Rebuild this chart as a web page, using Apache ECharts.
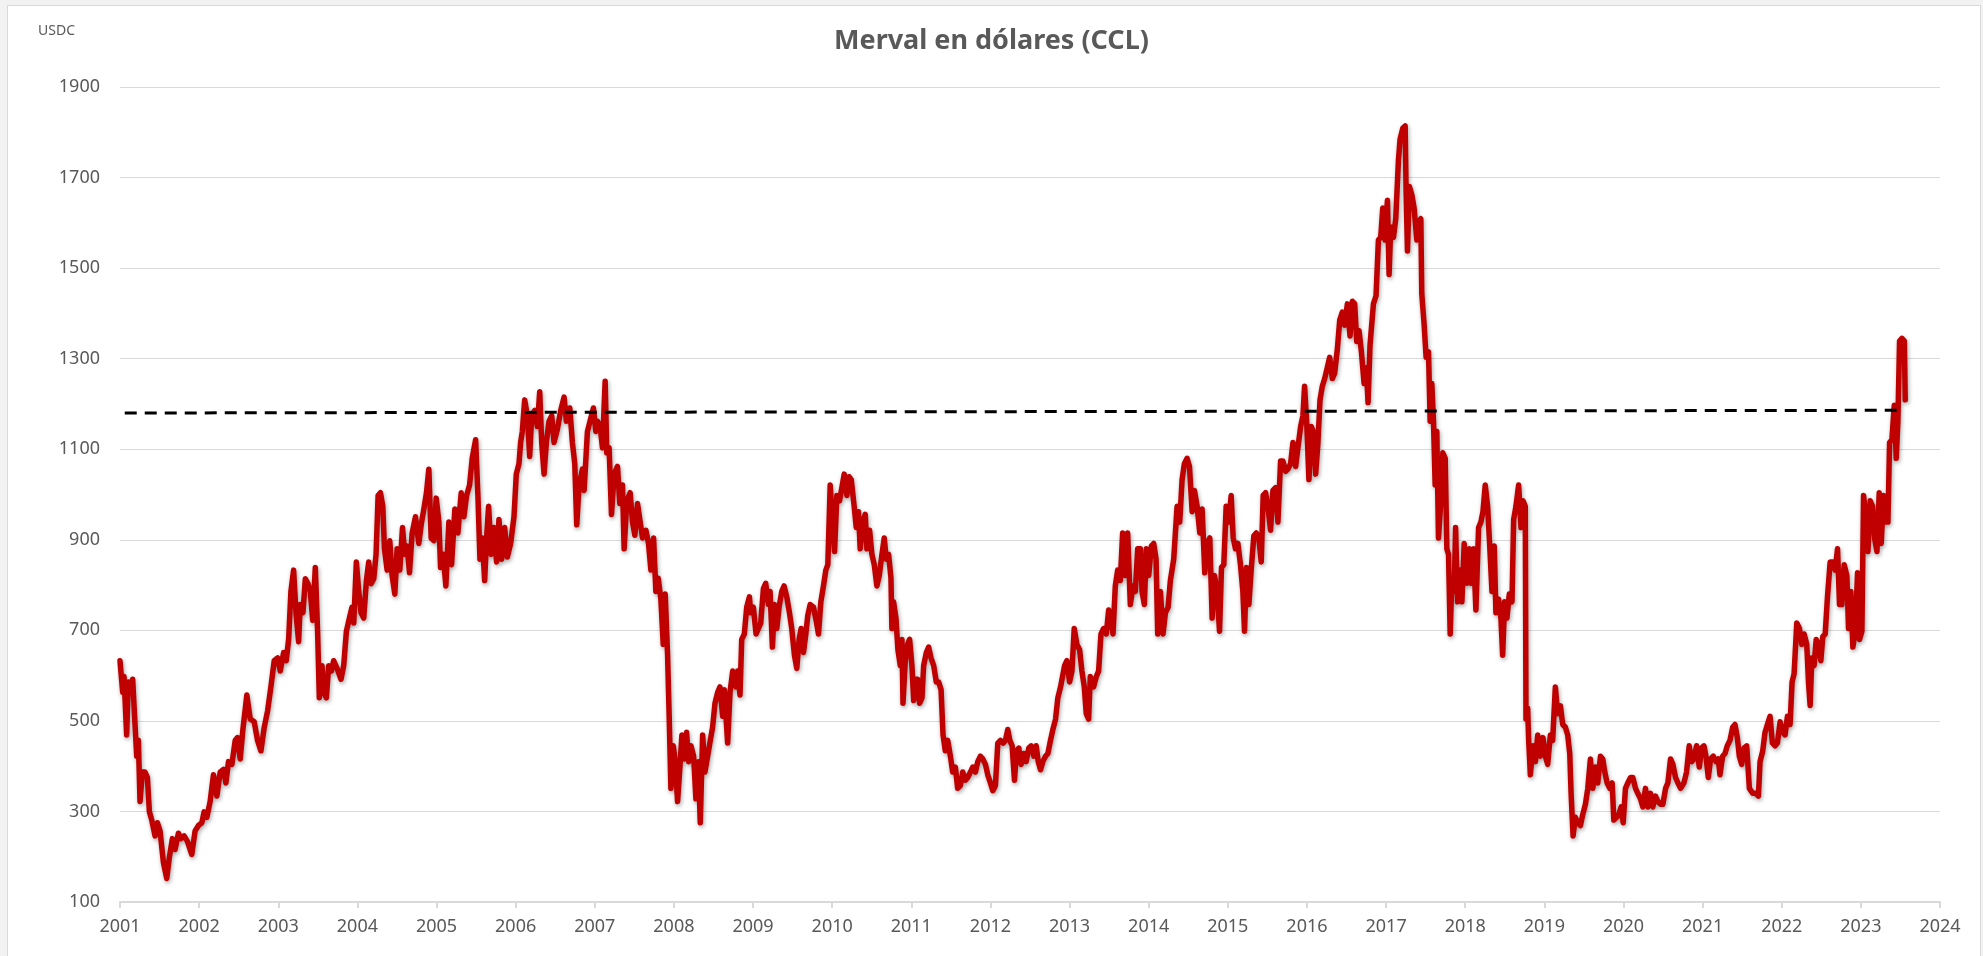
<!DOCTYPE html>
<html>
<head>
<meta charset="utf-8">
<title>Merval en dólares (CCL)</title>
<script src="https://cdn.jsdelivr.net/npm/echarts/dist/echarts.min.js"></script>
<style>
html,body{margin:0;padding:0;background:#f2f2f2;overflow:hidden;}
#marco{position:absolute;left:7px;top:5px;width:1972px;height:960px;background:#fff;border:1px solid #d9d9d9;}
#grafico{position:absolute;left:0;top:0;width:1983px;height:956px;}
</style>
</head>
<body>
<div id="marco"></div>
<div id="grafico"></div>
<script>
//datos: año (decimal) y Merval en USD CCL
var anios = [
 2001.000,2001.034,2001.051,2001.084,2001.105,2001.135,2001.160,2001.190,2001.211,2001.232,2001.253,2001.283,2001.316,2001.346,2001.371,2001.401,2001.443,2001.473,2001.506,2001.549,2001.591,2001.624,2001.662,2001.696,2001.738,2001.768,2001.810,2001.852,2001.907,2001.949,2001.992,
 2002.034,2002.063,2002.097,2002.139,2002.181,2002.224,2002.266,2002.308,2002.338,2002.371,2002.414,2002.456,2002.485,2002.519,2002.553,2002.603,2002.646,2002.696,2002.738,2002.781,2002.823,2002.865,2002.907,2002.949,2002.992,
 2003.025,2003.068,2003.101,2003.131,2003.160,2003.194,2003.224,2003.257,2003.278,2003.312,2003.342,2003.376,2003.405,2003.435,2003.468,2003.498,2003.519,2003.553,2003.574,2003.608,2003.637,2003.671,2003.700,2003.743,2003.793,2003.827,2003.861,2003.899,2003.932,2003.954,2003.987,
 2004.017,2004.046,2004.080,2004.114,2004.143,2004.173,2004.207,2004.236,2004.262,2004.291,2004.321,2004.342,2004.376,2004.409,2004.439,2004.473,2004.502,2004.536,2004.570,2004.599,2004.629,2004.658,2004.692,2004.734,2004.776,2004.806,2004.840,2004.873,2004.903,2004.932,2004.966,2004.996,
 2005.030,2005.051,2005.084,2005.118,2005.156,2005.190,2005.232,2005.270,2005.312,2005.346,2005.380,2005.418,2005.451,2005.494,2005.523,2005.549,2005.578,2005.608,2005.633,2005.658,2005.692,2005.726,2005.759,2005.789,2005.823,2005.861,2005.895,2005.937,2005.979,
 2006.008,2006.042,2006.063,2006.084,2006.114,2006.148,2006.177,2006.203,2006.241,2006.274,2006.304,2006.329,2006.359,2006.388,2006.422,2006.456,2006.485,2006.527,2006.570,2006.612,2006.641,2006.684,2006.717,2006.747,2006.772,2006.802,2006.844,2006.865,2006.907,2006.949,2006.983,
 2007.013,2007.034,2007.068,2007.097,2007.131,2007.152,2007.181,2007.211,2007.245,2007.287,2007.316,2007.350,2007.371,2007.405,2007.447,2007.477,2007.506,2007.540,2007.574,2007.603,2007.646,2007.679,2007.709,2007.743,2007.772,2007.802,2007.835,2007.865,2007.890,2007.920,2007.941,2007.962,2007.992,
 2008.017,2008.046,2008.076,2008.101,2008.131,2008.160,2008.186,2008.215,2008.249,2008.278,2008.308,2008.333,2008.363,2008.392,2008.426,2008.460,2008.489,2008.519,2008.553,2008.582,2008.616,2008.637,2008.679,2008.709,2008.743,2008.785,2008.806,2008.835,2008.857,2008.890,2008.920,2008.954,2008.970,
 2009.004,2009.038,2009.068,2009.097,2009.131,2009.160,2009.194,2009.215,2009.245,2009.270,2009.300,2009.329,2009.363,2009.392,2009.426,2009.460,2009.489,2009.523,2009.553,2009.582,2009.608,2009.637,2009.667,2009.692,2009.722,2009.764,2009.797,2009.827,2009.857,2009.890,2009.920,2009.945,2009.975,
 2010.004,2010.030,2010.059,2010.093,2010.122,2010.152,2010.186,2010.215,2010.241,2010.278,2010.304,2010.333,2010.354,2010.388,2010.418,2010.439,2010.473,2010.502,2010.532,2010.565,2010.595,2010.629,2010.658,2010.684,2010.713,2010.743,2010.755,2010.776,2010.806,2010.831,2010.861,2010.882,2010.895,2010.924,2010.954,2010.979,
 2011.008,2011.030,2011.051,2011.080,2011.105,2011.135,2011.156,2011.190,2011.219,2011.249,2011.283,2011.316,2011.346,2011.376,2011.401,2011.430,2011.460,2011.494,2011.523,2011.557,2011.586,2011.620,2011.650,2011.684,2011.713,2011.747,2011.776,2011.810,2011.840,2011.873,2011.903,2011.937,2011.966,
 2012.000,2012.030,2012.063,2012.093,2012.127,2012.160,2012.190,2012.219,2012.245,2012.274,2012.304,2012.329,2012.359,2012.388,2012.422,2012.451,2012.485,2012.515,2012.549,2012.578,2012.604,2012.633,2012.662,2012.696,2012.726,2012.759,2012.789,2012.823,2012.852,2012.886,2012.937,2012.966,
 2013.000,2013.030,2013.059,2013.093,2013.127,2013.156,2013.186,2013.211,2013.241,2013.262,2013.304,2013.338,2013.367,2013.397,2013.430,2013.464,2013.494,2013.523,2013.549,2013.578,2013.608,2013.641,2013.671,2013.705,2013.734,2013.768,2013.802,2013.831,2013.861,2013.895,2013.916,2013.945,2013.970,
 2014.000,2014.034,2014.063,2014.093,2014.114,2014.148,2014.181,2014.211,2014.245,2014.274,2014.316,2014.359,2014.392,2014.422,2014.451,2014.485,2014.515,2014.549,2014.578,2014.612,2014.646,2014.675,2014.709,2014.738,2014.772,2014.802,2014.831,2014.865,2014.895,2014.920,2014.949,2014.979,
 2015.013,2015.042,2015.068,2015.097,2015.127,2015.160,2015.190,2015.211,2015.236,2015.266,2015.295,2015.329,2015.359,2015.392,2015.422,2015.447,2015.477,2015.506,2015.540,2015.570,2015.603,2015.633,2015.667,2015.696,2015.730,2015.759,2015.793,2015.823,2015.857,2015.886,2015.920,2015.949,2015.970,2015.996,
 2016.025,2016.055,2016.080,2016.110,2016.139,2016.165,2016.194,2016.224,2016.257,2016.287,2016.321,2016.350,2016.384,2016.414,2016.447,2016.477,2016.511,2016.544,2016.574,2016.603,2016.629,2016.658,2016.688,2016.722,2016.751,2016.772,2016.797,2016.840,2016.873,2016.903,2016.932,2016.958,2016.987,
 2017.017,2017.038,2017.059,2017.093,2017.122,2017.156,2017.177,2017.211,2017.241,2017.253,2017.270,2017.295,2017.325,2017.354,2017.388,2017.409,2017.439,2017.451,2017.481,2017.506,2017.536,2017.557,2017.578,2017.599,2017.620,2017.641,2017.662,2017.692,2017.717,2017.747,2017.768,2017.789,2017.810,2017.831,2017.861,2017.878,2017.903,2017.928,2017.958,2017.987,
 2018.021,2018.051,2018.076,2018.105,2018.135,2018.169,2018.198,2018.224,2018.253,2018.283,2018.308,2018.338,2018.367,2018.388,2018.422,2018.451,2018.473,2018.498,2018.527,2018.557,2018.591,2018.612,2018.641,2018.675,2018.705,2018.730,2018.759,2018.768,2018.789,2018.802,2018.823,2018.857,2018.886,2018.916,2018.949,2018.983,
 2019.013,2019.042,2019.076,2019.105,2019.139,2019.169,2019.203,2019.232,2019.266,2019.295,2019.321,2019.338,2019.363,2019.392,2019.422,2019.456,2019.485,2019.519,2019.549,2019.582,2019.612,2019.646,2019.675,2019.709,2019.738,2019.764,2019.793,2019.827,2019.857,2019.878,2019.911,2019.941,2019.970,2019.996,
 2020.025,2020.055,2020.089,2020.118,2020.152,2020.181,2020.215,2020.245,2020.278,2020.308,2020.342,2020.371,2020.405,2020.435,2020.468,2020.498,2020.532,2020.561,2020.595,2020.624,2020.658,2020.688,2020.722,2020.764,2020.797,2020.831,2020.861,2020.890,2020.924,2020.958,2020.987,
 2021.017,2021.042,2021.072,2021.101,2021.135,2021.169,2021.198,2021.219,2021.253,2021.283,2021.312,2021.346,2021.380,2021.409,2021.439,2021.464,2021.494,2021.523,2021.557,2021.591,2021.633,2021.671,2021.705,2021.726,2021.759,2021.789,2021.819,2021.852,2021.882,2021.916,2021.945,2021.979,
 2022.013,2022.042,2022.072,2022.105,2022.131,2022.156,2022.190,2022.224,2022.253,2022.283,2022.316,2022.338,2022.359,2022.380,2022.409,2022.435,2022.464,2022.494,2022.519,2022.549,2022.578,2022.612,2022.646,2022.675,2022.705,2022.730,2022.759,2022.789,2022.823,2022.844,2022.873,2022.899,2022.928,2022.958,2022.983,
 2023.013,2023.034,2023.063,2023.089,2023.118,2023.148,2023.173,2023.203,2023.232,2023.257,2023.287,2023.316,2023.342,2023.363,2023.392,2023.422,2023.447,2023.468,2023.489,2023.519,2023.549,2023.561
];
var merval = [
 633,563,598,469,586,563,592,492,422,457,322,387,387,375,300,281,246,275,257,187,152,199,240,216,252,240,246,234,205,257,269,
 275,299,287,322,381,334,387,393,363,410,404,457,463,416,481,557,504,498,457,434,486,522,575,633,639,
 610,651,633,680,786,833,739,675,757,739,814,803,786,722,839,692,551,622,563,551,622,610,633,616,592,622,698,727,751,716,851,
 786,739,727,810,851,803,814,868,998,1004,974,880,833,898,821,780,880,833,927,868,886,827,915,951,892,933,968,1004,1056,904,898,992,
 939,839,868,798,939,845,968,915,1004,951,998,1021,1080,1121,998,857,904,810,904,974,868,927,851,945,857,927,862,892,951,
 1045,1068,1115,1139,1209,1174,1084,1174,1186,1150,1227,1115,1045,1115,1162,1174,1115,1144,1186,1215,1162,1191,1115,1068,933,1021,1056,1009,1139,1168,1191,
 1139,1162,1150,1103,1250,1092,1103,956,1045,1062,980,1021,880,986,1004,939,910,980,939,904,921,892,833,904,786,815,769,669,780,645,504,351,445,
 410,322,398,469,416,475,410,445,422,328,410,275,469,387,422,457,486,539,563,575,510,569,451,563,610,575,610,557,680,692,751,774,739,
 751,692,704,716,792,804,757,786,663,757,704,751,786,798,774,739,704,645,616,680,704,651,692,733,757,751,722,692,763,798,833,845,1021,
 939,874,998,986,1015,1045,998,1039,1033,974,927,962,880,939,956,880,921,868,845,798,821,868,904,857,868,815,704,763,727,657,622,680,539,633,669,680,
 622,545,592,592,539,551,622,651,663,639,622,586,586,569,469,434,457,422,387,398,351,357,387,369,375,387,398,387,410,422,416,404,381,
 363,346,357,451,457,451,457,481,457,445,369,434,440,404,428,410,440,445,422,445,410,392,410,422,428,457,481,504,551,575,622,633,
 586,610,704,669,657,610,575,516,504,598,575,598,610,692,704,692,745,727,692,798,833,810,915,821,915,757,798,786,880,880,786,757,880,
 821,886,892,857,692,786,692,739,751,810,857,974,939,1033,1068,1080,1062,962,1009,974,915,968,827,892,904,727,821,786,698,839,845,974,
 939,998,904,880,892,845,786,698,839,757,833,909,915,904,851,998,1004,974,921,1009,1015,939,1074,1074,1051,1056,1068,1115,1062,1104,1150,1174,1239,1162,
 1033,1150,1139,1045,1115,1209,1239,1256,1280,1303,1256,1268,1321,1385,1403,1374,1421,1350,1427,1421,1338,1362,1315,1245,1280,1203,1330,1421,1439,1562,1568,1633,1562,
 1650,1486,1591,1568,1609,1738,1785,1809,1814,1668,1538,1680,1662,1633,1562,1603,1609,1444,1374,1303,1315,1162,1245,1162,1021,1139,904,986,1092,1080,880,868,692,810,786,927,763,833,763,892,
 804,880,804,880,745,927,939,962,1021,974,892,786,886,739,769,727,645,763,727,780,763,945,974,1021,927,986,974,504,528,457,381,445,410,469,422,463,
 422,404,469,457,575,516,533,492,486,469,428,340,246,287,275,269,293,316,351,416,351,398,363,422,416,387,363,351,363,281,287,293,310,275,
 351,363,375,375,351,340,328,310,351,310,340,310,334,322,316,316,351,363,416,404,375,363,351,363,387,445,410,416,445,398,440,
 445,422,375,416,422,410,416,381,422,428,445,457,486,492,463,422,404,440,445,351,340,340,334,410,433,475,492,510,451,445,451,498,
 475,469,510,492,586,604,716,704,669,692,669,586,534,639,622,680,669,633,686,692,774,851,851,833,880,757,757,845,821,704,786,663,698,827,680,
 698,998,951,874,986,974,904,874,1004,892,998,939,939,1115,1121,1197,1080,1162,1339,1345,1339,1209
];
//línea de referencia punteada
var refAnios = [2001.06, 2023.46];
var refValores = [1180, 1186];
var ejeAnios = [2001, 2024];
var ejeValores = [100, 1900];

var serieMerval = anios.map(function(a, i){ return [a, merval[i]]; });
var serieRef = refAnios.map(function(a, i){ return [a, refValores[i]]; });

var grafico = echarts.init(document.getElementById('grafico'));
var opcion = {
	backgroundColor: 'transparent',
	animation: false,
	title: [
		{
			text: 'Merval en dólares (CCL)',
			left: 'center',
			top: 28,
			padding: 0,
			textStyle: {fontFamily: 'Noto Sans', fontWeight: 'bold', fontSize: 27, color: '#595959'}
		},
		{
			text: 'USDC',
			left: 38,
			top: 24,
			padding: 0,
			textStyle: {fontFamily: 'Noto Sans', fontWeight: 'normal', fontSize: 14, color: '#595959'}
		}
	],
	grid: {left: 120, right: 43, top: 87, bottom: 54},
	xAxis: {
		type: 'value',
		min: ejeAnios[0],
		max: ejeAnios[1],
		interval: 1,
		axisLine: {show: true, lineStyle: {color: '#d9d9d9', width: 2}},
		axisTick: {show: true, length: 6, lineStyle: {color: '#d9d9d9', width: 2}},
		axisLabel: {
			margin: 16,
			fontFamily: 'Noto Sans',
			fontSize: 18,
			color: '#595959',
			formatter: function(v){ return String(v); }
		},
		splitLine: {show: false}
	},
	yAxis: {
		type: 'value',
		min: ejeValores[0],
		max: ejeValores[1],
		interval: 200,
		axisLine: {show: false},
		axisTick: {show: false},
		axisLabel: {
			margin: 20,
			fontFamily: 'Noto Sans',
			fontSize: 18,
			color: '#595959',
			formatter: function(v){ return String(v); }
		},
		splitLine: {lineStyle: {color: '#d9d9d9', width: 1}}
	},
	series: [
		{
			name: 'Merval CCL',
			type: 'line',
			data: serieMerval,
			showSymbol: false,
			symbol: 'none',
			lineStyle: {
				color: '#c00000',
				width: 5.5,
				join: 'round',
				cap: 'round',
				shadowColor: 'rgba(0,0,0,0.35)',
				shadowBlur: 4,
				shadowOffsetX: 1,
				shadowOffsetY: 2
			},
			z: 2
		},
		{
			name: 'Promedio',
			type: 'line',
			data: serieRef,
			symbol: 'none',
			lineStyle: {color: '#000', width: 3, type: [12, 8]},
			z: 3
		}
	]
};
grafico.setOption(opcion);
</script>
</body>
</html>
